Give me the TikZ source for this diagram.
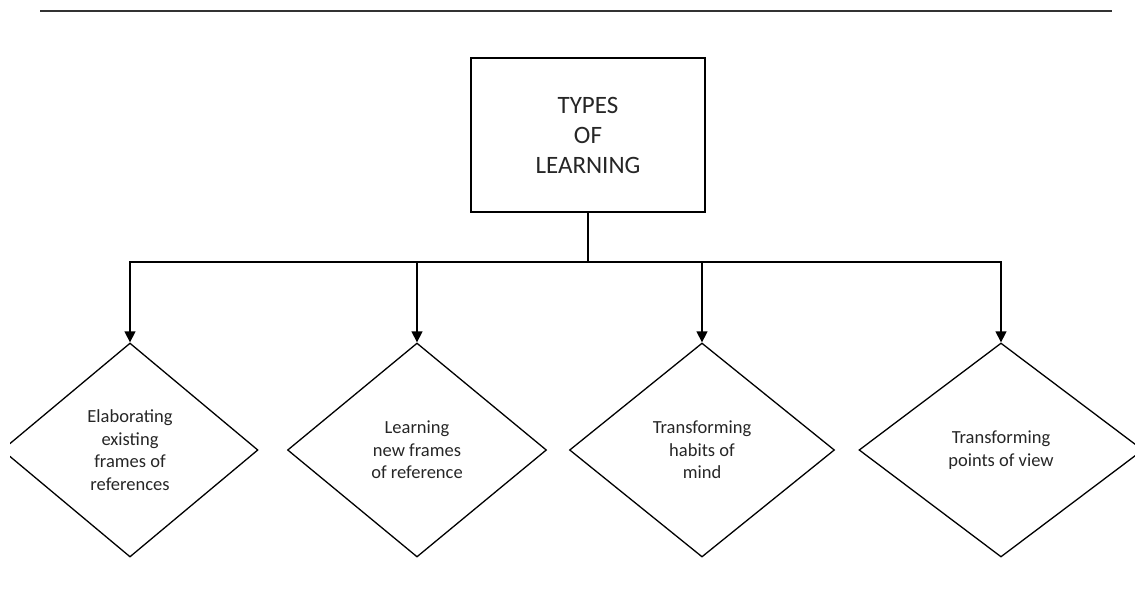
\documentclass[tikz,border=0pt]{standalone}
\usepackage{fontspec}
\setmainfont{Carlito}
\usetikzlibrary{arrows.meta,shapes.geometric}

\begin{document}
\begin{tikzpicture}[
  x=1pt, y=-1pt,
  topbox/.style={draw, line width=1.3pt, minimum width=234pt, minimum height=154pt, align=center, text=black!85, font=\fontsize{25}{30}\selectfont},
  choice/.style={diamond, draw, line width=1.3pt, inner sep=0pt, minimum height=214pt, align=center, text=black!85, font=\fontsize{18.5}{22.5}\selectfont},
  line/.style={-{Triangle[length=11pt,width=11pt]}, line width=1.3pt}
]
\useasboundingbox (0,0) rectangle (1135,611);
\clip (10,0) rectangle (1135,611);

% rule across the top
\coordinate (ruleL) at (40,11);
\coordinate (ruleR) at (1112,11);
\draw[line width=2.2pt, black!80] (ruleL) -- (ruleR);

\node[topbox] (types) at (588,135) {TYPES\\OF\\LEARNING};

\node[choice, minimum width=256pt] (elab) at (130,450) {Elaborating\\existing\\frames of\\references};
\node[choice, minimum width=259pt] (newfr) at (417,450) {Learning\\new frames\\of reference};
\node[choice, minimum width=265pt] (habits) at (702,450) {Transforming\\habits of\\mind};
\node[choice, minimum width=284pt] (views) at (1001,450) {Transforming\\points of view};

\coordinate (bus) at (types.south |- 0,262);
\draw[line width=1.3pt] (types.south) -- (bus);
\draw[line] (bus) -| (elab.north);
\draw[line] (bus) -| (newfr.north);
\draw[line] (bus) -| (habits.north);
\draw[line] (bus) -| (views.north);
\end{tikzpicture}
\end{document}
